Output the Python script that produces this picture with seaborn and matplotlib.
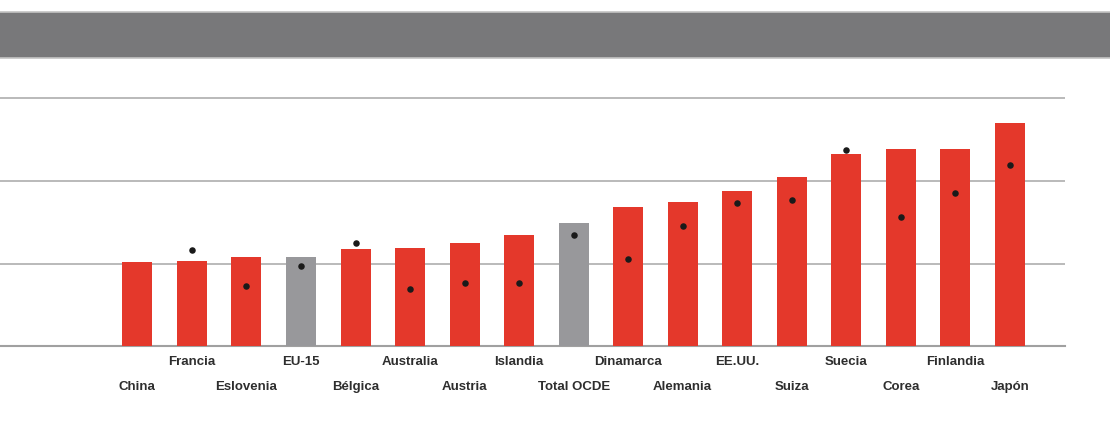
###### Libraries

import matplotlib
matplotlib.use("Agg")
import matplotlib.pyplot as plt
import seaborn as sns
from matplotlib.patches import Rectangle

###### Data

countries = ["China", "Francia", "Eslovenia", "EU-15", "Bélgica", "Australia", "Austria",
             "Islandia", "Total OCDE", "Dinamarca", "Alemania", "EE.UU.", "Suiza",
             "Suecia", "Corea", "Finlandia", "Japón"]
bar_values = [1.02, 1.03, 1.08, 1.08, 1.18, 1.19, 1.25, 1.35, 1.49, 1.69, 1.75,
              1.88, 2.05, 2.33, 2.39, 2.39, 2.70]
dot_values = [None, 1.17, 0.73, 0.97, 1.25, 0.69, 0.76, 0.76, 1.35, 1.06, 1.45,
              1.73, 1.77, 2.38, 1.56, 1.85, 2.19]
aggregates = ["EU-15", "Total OCDE"]

###### Style

sns.set_style("white")
plt.rcParams["font.family"] = ["Liberation Sans", "DejaVu Sans"]

RED = "#e4382b"
GREY = "#98989b"
colors = [GREY if c in aggregates else RED for c in countries]

fig = plt.figure(figsize=(11.1, 4.24), dpi=100)

# grey header band
fig.patches.append(Rectangle((0, 1 - 58 / 424), 1, 46 / 424, transform=fig.transFigure,
                             facecolor="#78787a", edgecolor="none", zorder=0))
for yy in [1 - 12 / 424, 1 - 58 / 424]:
    fig.add_artist(plt.Line2D([0, 1], [yy, yy], transform=fig.transFigure,
                              color="#c4c4c4", linewidth=1.2))

ax = fig.add_axes([0, 0.1833, 1065 / 1110, 0.624])

###### Bars and dots

sns.barplot(x=countries, y=bar_values, hue=countries, palette=colors, legend=False,
            width=0.55, saturation=1, linewidth=0, ax=ax, zorder=3)
dot_x = [i for i, v in enumerate(dot_values) if v is not None]
dot_y = [v for v in dot_values if v is not None]
ax.scatter(dot_x, dot_y, s=22, color="#1a1a1a", zorder=4, linewidths=0)

###### Axes

ax.set_xlim(-2.52, 17.01)
ax.set_ylim(0, 3.2)
ax.set_yticks([1, 2, 3])
ax.yaxis.grid(True, color="#b4b4b4", linewidth=1.3)
ax.set_axisbelow(True)
ax.tick_params(left=False, bottom=False, labelleft=False, labelbottom=False)
for side in ["top", "right", "left"]:
    ax.spines[side].set_visible(False)
ax.spines["bottom"].set_color("#a0a0a0")
ax.spines["bottom"].set_linewidth(1.5)

for i, name in enumerate(countries):
    offset = -11 if i % 2 == 1 else -29
    ax.annotate(name, xy=(i, 0), xycoords=("data", "axes fraction"),
                xytext=(0, offset), textcoords="offset points",
                ha="center", va="center", fontsize=9.5, fontweight="bold",
                color="#2e2e2e")

plt.savefig("out.png", dpi=100)
